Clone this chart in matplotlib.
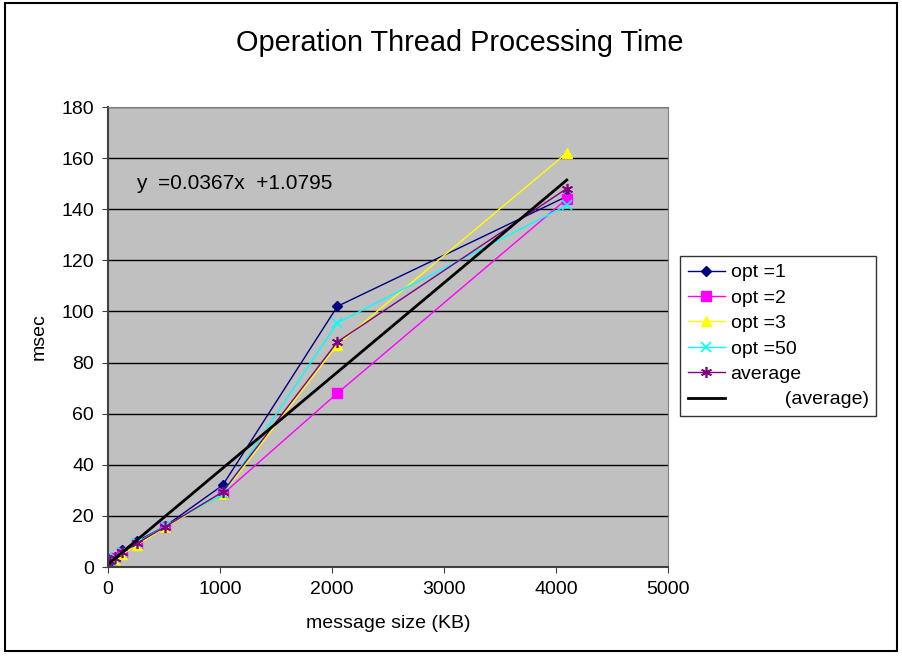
import matplotlib
matplotlib.use("Agg")
import matplotlib.pyplot as plt
from matplotlib.patches import Rectangle
import numpy as np

plt.rcParams["font.family"] = ["Liberation Sans", "DejaVu Sans"]

# message sizes (KB)
sizes = [1, 16, 64, 128, 256, 512, 1024, 2048, 4096]

opt_1 = [2.5, 3.0, 4.0, 6.5, 10.0, 16.0, 32.0, 102.0, 145.0]
opt_2 = [2.0, 2.5, 3.5, 5.5, 9.0, 15.5, 28.5, 68.0, 144.0]
opt_3 = [1.5, 2.0, 3.0, 5.0, 8.5, 15.5, 28.5, 87.0, 162.0]
opt_50 = [2.0, 2.5, 3.5, 6.0, 9.5, 16.0, 28.5, 95.5, 141.5]
average = [2.0, 2.5, 3.5, 5.7, 9.2, 15.8, 29.4, 88.1, 148.1]

slope = 0.0367
intercept = 1.0795

fig = plt.figure(figsize=(9.02, 6.56), dpi=100)
fig.patches.append(Rectangle((5 / 902, 5 / 656), 892 / 902, 648 / 656,
                             transform=fig.transFigure, fill=False,
                             edgecolor="black", linewidth=1.5))

ax = fig.add_axes([108 / 902, 1 - 567 / 656, 560 / 902, 460 / 656])
ax.set_facecolor("#C0C0C0")

ax.plot(sizes, opt_1, color="#000080", marker="D", markersize=5.5, linewidth=1, label="opt =1")
ax.plot(sizes, opt_2, color="#FF00FF", marker="s", markersize=6.5, linewidth=1, label="opt =2")
ax.plot(sizes, opt_3, color="#FFFF00", marker="^", markersize=6.5, linewidth=1, label="opt =3")
ax.plot(sizes, opt_50, color="#00FFFF", marker="x", markersize=6.5, markeredgewidth=1.2, linewidth=1, label="opt =50")
ax.plot(sizes, average, color="#800080", marker=(6, 2, 0), markersize=8, markeredgewidth=1.2, linewidth=1, label="average")

trend_x = np.array([sizes[0], sizes[-1]])
ax.plot(trend_x, slope * trend_x + intercept, color="black", linewidth=2,
        label="          (average)")

ax.set_xlim(0, 5000)
ax.set_ylim(0, 180)
ax.set_xticks(range(0, 5001, 1000))
ax.set_yticks(range(0, 181, 20))
ax.grid(True, axis="y", color="black", linewidth=1)
ax.set_axisbelow(True)
for side in ["top", "right"]:
    ax.spines[side].set_color("#808080")
for side in ["left", "bottom"]:
    ax.spines[side].set_color("#404040")
    ax.spines[side].set_linewidth(1.5)
ax.tick_params(labelsize=14, length=4, color="#404040", pad=6)

ax.set_xlabel("message size (KB)", fontsize=14, labelpad=12)
ax.set_ylabel("msec", fontsize=14, labelpad=10)

fig.text(460 / 902, 1 - 43 / 656, "Operation Thread Processing Time",
         fontsize=20.8, ha="center", va="center")

ax.text(0.05, 0.833, "y  =0.0367x  +1.0795", transform=ax.transAxes,
        fontsize=15, va="center")

leg = fig.legend(loc="upper left", bbox_to_anchor=(680 / 902, 1 - 256 / 656),
                 borderaxespad=0, fontsize=14, frameon=True, fancybox=False,
                 edgecolor="black", borderpad=0.4, labelspacing=0.4,
                 handlelength=1.9, handletextpad=0.3)
leg.get_frame().set_linewidth(1)

fig.savefig("out.png", dpi=100)
